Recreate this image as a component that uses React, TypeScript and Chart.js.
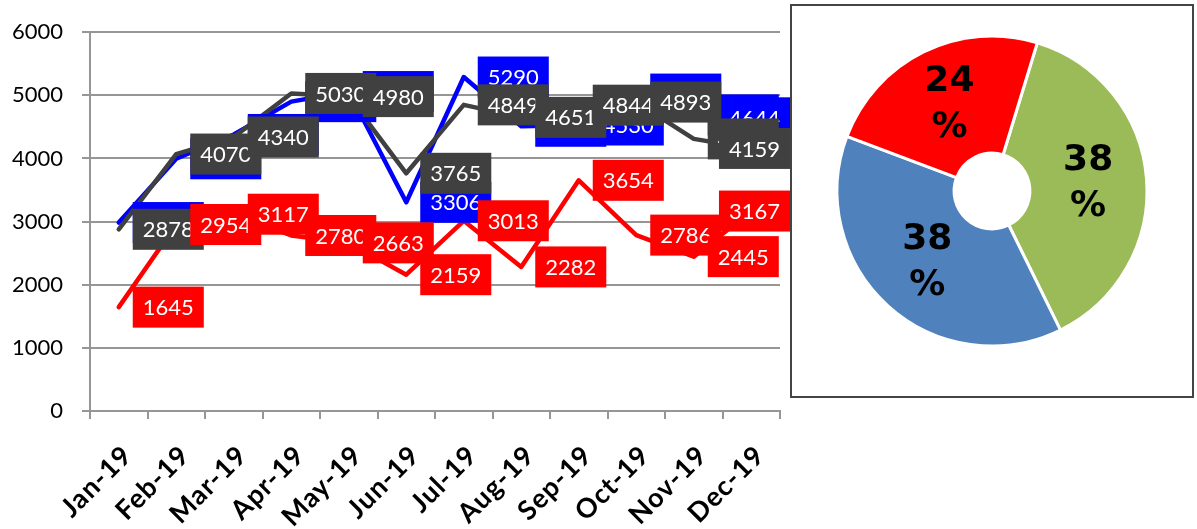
import React, { useEffect, useRef } from 'react';
import { Chart, registerables } from 'chart.js';

Chart.register(...registerables);

// Monthly figures, 2019
const months = ['Jan-19', 'Feb-19', 'Mar-19', 'Apr-19', 'May-19', 'Jun-19', 'Jul-19', 'Aug-19', 'Sep-19', 'Oct-19', 'Nov-19', 'Dec-19'];
const blueSeries = [2985, 3995, 4380, 4900, 5060, 3306, 5290, 4510, 4530, 5020, 4690, 4644];
const graySeries = [2878, 4070, 4340, 5030, 4980, 3765, 4849, 4651, 4844, 4893, 4310, 4159];
const redSeries = [1645, 2954, 3117, 2780, 2663, 2159, 3013, 2282, 3654, 2786, 2445, 3167];
const yMin = 0;
const yMax = 6000;
const yStep = 1000;

// Share ring
const shareValues = [38, 38, 24];
const shareColors = ['#9BBB59', '#4F81BD', '#FF0000'];

const BLUE = '#0000FF';
const GRAY = '#404040';
const RED = '#FF0000';
const GRID = '#969696';

// Value boxes placed to the right of each point, kept inside the canvas
const boxLabels = {
  id: 'boxLabels',
  afterDatasetsDraw(chart: any) {
    const ctx = chart.ctx;
    ctx.save();
    ctx.font = '22px Lato';
    ctx.textAlign = 'center';
    ctx.textBaseline = 'middle';
    const sets = chart.data.datasets;
    for (let di = sets.length - 1; di >= 0; di--) {
      const ds = sets[di];
      const meta = chart.getDatasetMeta(di);
      meta.data.forEach((pt: any, i: number) => {
        const text = String(ds.data[i]);
        const w = ctx.measureText(text).width + 20;
        const h = 41;
        let x = pt.x + 14;
        if (x + w > chart.width) x = chart.width - w;
        const y = pt.y - h / 2;
        ctx.fillStyle = ds.borderColor;
        ctx.fillRect(x, y, w, h);
        ctx.fillStyle = '#FFFFFF';
        ctx.fillText(text, x + w / 2, pt.y + 1);
      });
    }
    ctx.restore();
  },
};

// Slanted month names under the category axis
const monthLabels = {
  id: 'monthLabels',
  afterDraw(chart: any) {
    const ctx = chart.ctx;
    const xs = chart.scales.x;
    ctx.save();
    ctx.font = 'bold 27px Lato';
    ctx.letterSpacing = '1px';
    ctx.fillStyle = '#000000';
    ctx.textAlign = 'right';
    ctx.textBaseline = 'alphabetic';
    chart.data.labels.forEach((label: string, i: number) => {
      const x = xs.getPixelForTick(i);
      ctx.save();
      ctx.translate(x + 15, xs.top + 46);
      ctx.rotate(-Math.PI / 4);
      ctx.fillText(label, 0, 0);
      ctx.restore();
    });
    ctx.restore();
  },
};

// Percent text in the middle of each ring segment
const ringLabels = {
  id: 'ringLabels',
  afterDatasetsDraw(chart: any) {
    const ctx = chart.ctx;
    const meta = chart.getDatasetMeta(0);
    ctx.save();
    ctx.font = 'bold 36px "DejaVu Sans"';
    ctx.fillStyle = '#000000';
    ctx.textAlign = 'center';
    ctx.textBaseline = 'middle';
    meta.data.forEach((arc: any, i: number) => {
      const p = arc.tooltipPosition();
      ctx.fillText(String(shareValues[i]), p.x, p.y - 23);
      ctx.fillText('%', p.x, p.y + 23);
    });
    ctx.restore();
  },
};

function LineChart() {
  const ref = useRef<HTMLCanvasElement | null>(null);
  useEffect(() => {
    if (!ref.current) return;
    const chart = new Chart(ref.current, {
      type: 'line',
      data: {
        labels: months,
        datasets: [
          { data: redSeries, borderColor: RED, backgroundColor: RED },
          { data: graySeries, borderColor: GRAY, backgroundColor: GRAY },
          { data: blueSeries, borderColor: BLUE, backgroundColor: BLUE },
        ],
      },
      options: {
        responsive: false,
        animation: false,
        devicePixelRatio: 1,
        layout: { padding: { top: 29, right: 10, left: 0, bottom: 0 } },
        elements: {
          line: { borderWidth: 4.5, tension: 0, borderJoinStyle: 'round', borderCapStyle: 'round' },
          point: { radius: 0, hoverRadius: 0 },
        },
        plugins: { legend: { display: false }, tooltip: { enabled: false } },
        scales: {
          x: {
            offset: true,
            grid: { offset: true, drawOnChartArea: false, drawTicks: true, tickLength: 8, color: GRID, lineWidth: 2 },
            border: { display: true, color: GRID, width: 2 },
            ticks: { display: false, autoSkip: false },
            afterFit: (scale: any) => { scale.height = 118; },
          },
          y: {
            min: yMin,
            max: yMax,
            grid: { drawTicks: true, tickLength: 8, color: GRID, lineWidth: 2 },
            border: { display: true, color: GRID, width: 2 },
            ticks: {
              stepSize: yStep,
              padding: 19,
              color: '#000000',
              font: { family: 'Lato', size: 22 },
              callback: (v: any) => String(v),
            },
            afterFit: (scale: any) => { scale.width = 90; },
          },
        },
      } as any,
      plugins: [boxLabels, monthLabels],
    });
    return () => chart.destroy();
  }, []);
  return (
    <canvas
      ref={ref}
      width={790}
      height={529}
      style={{ position: 'absolute', left: 0, top: 0, width: 790, height: 529 }}
    />
  );
}

function RingChart() {
  const ref = useRef<HTMLCanvasElement | null>(null);
  useEffect(() => {
    if (!ref.current) return;
    const chart = new Chart(ref.current, {
      type: 'doughnut',
      data: {
        labels: ['A', 'B', 'C'],
        datasets: [
          {
            data: shareValues,
            backgroundColor: shareColors,
            borderColor: '#FFFFFF',
            borderWidth: 3,
          },
        ],
      },
      options: {
        responsive: false,
        animation: false,
        devicePixelRatio: 1,
        rotation: 17,
        radius: 155,
        cutout: 40,
        layout: { padding: 0 },
        plugins: { legend: { display: false }, tooltip: { enabled: false } },
      } as any,
      plugins: [ringLabels],
    });
    return () => chart.destroy();
  }, []);
  return (
    <canvas
      ref={ref}
      width={330}
      height={330}
      style={{ position: 'absolute', left: 827, top: 26, width: 330, height: 330 }}
    />
  );
}

export default function App() {
  return (
    <div style={{ position: 'fixed', left: 0, top: 0, width: 1197, height: 529, background: '#FFFFFF', overflow: 'hidden' }}>
      <LineChart />
      <div
        style={{
          position: 'absolute',
          left: 790,
          top: 4,
          width: 404,
          height: 394,
          boxSizing: 'border-box',
          border: '2px solid #444444',
          background: '#FFFFFF',
        }}
      />
      <RingChart />
    </div>
  );
}
